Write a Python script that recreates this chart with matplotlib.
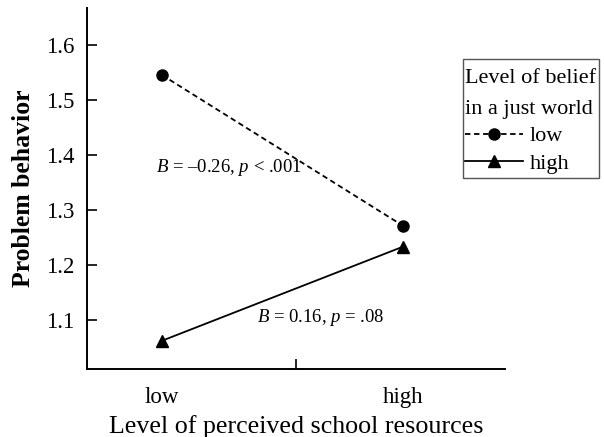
import matplotlib.pyplot as plt
import matplotlib.ticker as mticker
from matplotlib.patches import Rectangle

plt.rcParams['font.family'] = ['Liberation Serif']
plt.rcParams['mathtext.fontset'] = 'custom'
plt.rcParams['mathtext.rm'] = 'Liberation Serif'
plt.rcParams['mathtext.it'] = 'Liberation Serif:italic'

resources = ['low', 'high']
belief_low = [1.545, 1.271]
belief_high = [1.062, 1.233]
y_ticks = [1.1, 1.2, 1.3, 1.4, 1.5, 1.6]

fig = plt.figure(figsize=(6.04, 4.37), dpi=100)
ax = fig.add_axes([0.144, 0.156, 0.692, 0.826])

x = [0, 1]
ax.plot(x, belief_low, color='black', linestyle=(0, (3, 2)), linewidth=1.3,
        marker='o', markersize=8, label='low')
ax.plot(x, belief_high, color='black', linestyle='-', linewidth=1.3,
        marker='^', markersize=9, label='high')

ax.set_xlim(-0.311, 1.423)
ax.set_ylim(1.011, 1.667)

ax.set_xticks(x)
ax.set_xticklabels(resources)
ax.xaxis.set_minor_locator(mticker.FixedLocator([0.556]))
ax.tick_params(axis='x', which='major', length=0, pad=13, labelsize=16.5)
ax.tick_params(axis='x', which='minor', direction='in', length=7, width=1.2)
ax.set_yticks(y_ticks)
ax.set_yticklabels([f'{v:.1f}' for v in y_ticks])
ax.tick_params(axis='y', direction='in', length=7, width=1.2, pad=9, labelsize=16.5)

for side in ['top', 'right']:
    ax.spines[side].set_visible(False)
for side in ['left', 'bottom']:
    ax.spines[side].set_linewidth(1.4)

ax.set_xlabel('Level of perceived school resources', fontsize=18.7, labelpad=5)
ax.set_ylabel('Problem behavior', fontsize=18.5, fontweight='bold', labelpad=8)

ax.text(0.28, 1.376, r'$B$ = –0.26, $p$ < .001', fontsize=13.5,
        ha='center', va='center')
ax.text(0.66, 1.104, r'$B$ = 0.16, $p$ = .08', fontsize=13.5,
        ha='center', va='center')

# legend drawn without its own frame; the box is a separate rectangle
leg = ax.legend(title='Level of belief\nin a just world', loc='upper left',
                bbox_to_anchor=(0.770, 0.843), bbox_transform=fig.transFigure,
                fontsize=16, title_fontsize=16, frameon=False,
                handlelength=2.6, borderpad=0, labelspacing=0.3,
                handletextpad=0.3, borderaxespad=0)
leg._legend_box.align = 'left'
leg.get_title().set_linespacing(1.9)

fig.patches.append(Rectangle((0.7666, 0.5927), 0.2252, 0.2723,
                             transform=fig.transFigure, fill=False,
                             edgecolor='#555555', linewidth=1.0))

fig.savefig('out.png', dpi=100)
